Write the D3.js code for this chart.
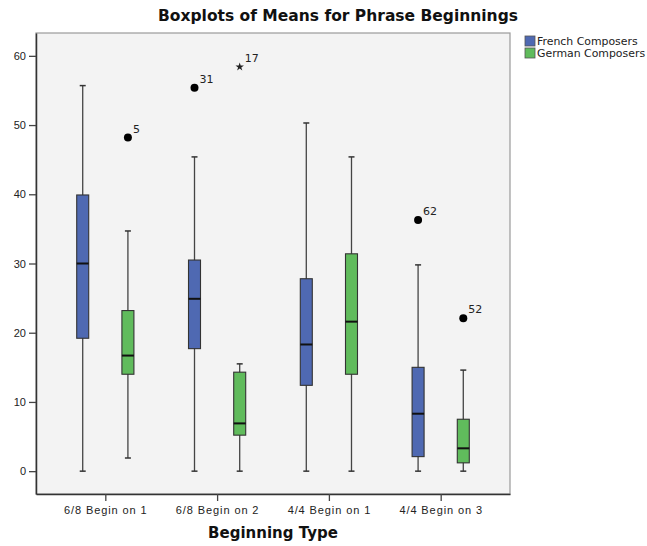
<!DOCTYPE html>
<html>
<head>
<meta charset="utf-8">
<script src="https://cdn.jsdelivr.net/npm/d3@7"></script>
<style>
	body { margin: 0; background: #fff; }
	svg { display: block; font-family: "DejaVu Sans", sans-serif; }
</style>
</head>
<body>
<svg id="chart" width="647" height="546"></svg>
<script>
// categories and groups
const categories = ["6/8 Begin on 1", "6/8 Begin on 2", "4/4 Begin on 1", "4/4 Begin on 3"];
const groups = ["French Composers", "German Composers"];
const yTicks = [0, 10, 20, 30, 40, 50, 60];

// box stats per category: [low whisker, q1, median, q3, high whisker]
const frenchStats = [
	[0, 19.2, 30.0, 39.9, 55.7],
	[0, 17.7, 24.9, 30.5, 45.4],
	[0, 12.4, 18.3, 27.8, 50.3],
	[0, 2.1, 8.3, 15.0, 29.8]
];
const germanStats = [
	[1.9, 14.0, 16.7, 23.2, 34.7],
	[0, 5.2, 6.9, 14.3, 15.5],
	[0, 14.0, 21.6, 31.4, 45.4],
	[0, 1.2, 3.3, 7.5, 14.6]
];

// outliers: category, group, value, case label, kind
const outliers = [
	{ cat: "6/8 Begin on 1", grp: "German Composers", value: 48.2, label: "5", kind: "dot" },
	{ cat: "6/8 Begin on 2", grp: "French Composers", value: 55.4, label: "31", kind: "dot" },
	{ cat: "6/8 Begin on 2", grp: "German Composers", value: 58.4, label: "17", kind: "star" },
	{ cat: "4/4 Begin on 3", grp: "French Composers", value: 36.3, label: "62", kind: "dot" },
	{ cat: "4/4 Begin on 3", grp: "German Composers", value: 22.1, label: "52", kind: "dot" }
];

const colors = ["#4f69b2", "#60bb5c"];

const margin = { left: 36, top: 33, right: 137, bottom: 52 };
const W = 647, H = 546;
const width = W - margin.left - margin.right,
	height = H - margin.top - margin.bottom;

const svg = d3.select("#chart");

const xScale = d3.scalePoint().domain(categories).range([0, width]).padding(0.62);
const gScale = d3.scalePoint().domain(groups).range([-22.6, 22.6]);
const yScale = d3.scaleLinear().domain([-3.3, 63.3]).range([height, 0]);
const color = d3.scaleOrdinal().domain(groups).range(colors);

const g = svg.append("g").attr("transform", `translate(${margin.left}, ${margin.top})`);

// plot background and frame
g.append("rect")
	.attr("width", width).attr("height", height)
	.attr("fill", "#f3f3f3")
	.attr("stroke", "#9a9a9a").attr("stroke-width", 1.2);

// axes
const yAxis = d3.axisLeft(yScale).tickValues(yTicks).tickSizeInner(7).tickSizeOuter(0).tickPadding(3);
const xAxis = d3.axisBottom(xScale).tickSizeInner(7).tickSizeOuter(0).tickPadding(5);

g.append("g").attr("class", "y axis").call(yAxis);
g.append("g").attr("class", "x axis").attr("transform", `translate(0, ${height})`).call(xAxis);

svg.selectAll(".axis path").attr("stroke", "#333").attr("stroke-width", 1.5);
svg.selectAll(".axis line").attr("stroke", "#444").attr("stroke-width", 1.3);
svg.selectAll(".axis text").attr("fill", "#222").style("font-size", "11px");
svg.selectAll(".x.axis text").attr("letter-spacing", "0.9px");

// boxes
const boxW = 12, capW = 6;
const boxData = [];
categories.forEach((c, i) => {
	boxData.push({ cat: c, grp: groups[0], s: frenchStats[i] });
	boxData.push({ cat: c, grp: groups[1], s: germanStats[i] });
});

const boxes = g.selectAll(".box").data(boxData).enter().append("g")
	.attr("class", "box")
	.attr("transform", d => `translate(${xScale(d.cat) + gScale(d.grp)}, 0)`);

boxes.append("line")
	.attr("x1", 0).attr("x2", 0)
	.attr("y1", d => yScale(d.s[0])).attr("y2", d => yScale(d.s[4]))
	.attr("stroke", "#444").attr("stroke-width", 1.3);
boxes.selectAll(".cap").data(d => [d.s[0], d.s[4]]).enter().append("line")
	.attr("x1", -capW / 2).attr("x2", capW / 2)
	.attr("y1", v => yScale(v)).attr("y2", v => yScale(v))
	.attr("stroke", "#333").attr("stroke-width", 1.5);
boxes.append("rect")
	.attr("x", -boxW / 2).attr("width", boxW)
	.attr("y", d => yScale(d.s[3]))
	.attr("height", d => yScale(d.s[1]) - yScale(d.s[3]))
	.attr("fill", d => color(d.grp))
	.attr("stroke", "#333").attr("stroke-width", 1.1);
boxes.append("line")
	.attr("x1", -boxW / 2).attr("x2", boxW / 2)
	.attr("y1", d => yScale(d.s[2])).attr("y2", d => yScale(d.s[2]))
	.attr("stroke", "#111").attr("stroke-width", 2);

// outliers
const outs = g.selectAll(".outlier").data(outliers).enter().append("g")
	.attr("class", "outlier")
	.attr("transform", d => `translate(${xScale(d.cat) + gScale(d.grp)}, ${yScale(d.value)})`);
outs.filter(d => d.kind === "dot").append("circle").attr("r", 4).attr("fill", "#000");
outs.filter(d => d.kind === "star").append("path")
	.attr("d", d3.symbol(d3.symbolStar, 22))
	.attr("fill", "#222");
outs.append("text")
	.attr("x", 5).attr("y", -5)
	.attr("fill", "#222")
	.style("font-size", "11px")
	.text(d => d.label);

// titles
svg.append("text")
	.attr("x", 338).attr("y", 21)
	.attr("text-anchor", "middle")
	.style("font-size", "15.5px").style("font-weight", "bold")
	.attr("fill", "#111")
	.text("Boxplots of Means for Phrase Beginnings");
svg.append("text")
	.attr("x", margin.left + width / 2).attr("y", 538)
	.attr("text-anchor", "middle")
	.style("font-size", "15px").style("font-weight", "bold")
	.attr("fill", "#111")
	.text("Beginning Type");

// legend
const legend = svg.append("g").attr("transform", "translate(525, 36)");
const items = legend.selectAll("g").data(groups).enter().append("g")
	.attr("transform", (d, i) => `translate(0, ${i * 12})`);
items.append("rect")
	.attr("width", 10).attr("height", 10)
	.attr("fill", d => color(d))
	.attr("stroke", "#555").attr("stroke-width", 0.8);
items.append("text")
	.attr("x", 12).attr("y", 9)
	.style("font-size", "10.9px")
	.attr("fill", "#222")
	.text(d => d);
</script>
</body>
</html>
